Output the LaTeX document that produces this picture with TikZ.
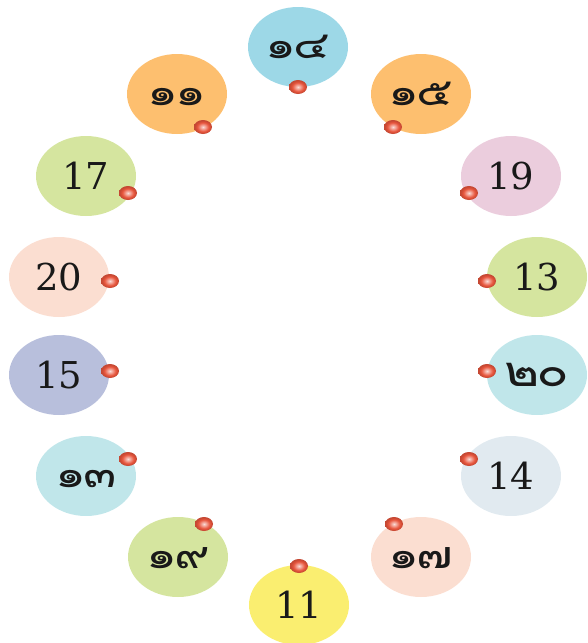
\documentclass[tikz,border=0pt]{standalone}
\usepackage{fontspec}
\newfontfamily\thaifont[Script=Thai, LetterSpace=-6]{Loma}
\newfontfamily\numfont{DejaVu Serif}
\usetikzlibrary{shapes.geometric}
\definecolor{cblue}{HTML}{9DD8E7}
\definecolor{corange}{HTML}{FDBF6F}
\definecolor{cgreen}{HTML}{D5E59F}
\definecolor{cpink}{HTML}{EBCDDD}
\definecolor{cpeach}{HTML}{FBDED1}
\definecolor{clav}{HTML}{B8BFDC}
\definecolor{ccyan}{HTML}{C0E6EA}
\definecolor{cgrey}{HTML}{E1EAF0}
\definecolor{cyellow}{HTML}{FAEE70}
\definecolor{cdot}{HTML}{E8553C}
\pgfdeclareradialshading{pegshade}{\pgfpoint{0bp}{0bp}}{%
  color(0bp)=(white!80!cdot); color(7bp)=(white!45!cdot);
  color(16bp)=(cdot); color(23bp)=(cdot!85!black); color(50bp)=(cdot!85!black)}
\newcommand{\thainum}[1]{\scalebox{1.28}[1]{#1}}
\tikzset{
  bubble/.style={ellipse, minimum width=100pt, minimum height=80pt, inner sep=0pt, fill=#1},
  arab/.style={font=\numfont\fontsize{37}{40}\selectfont, text=black!90},
  thai/.style={font=\thaifont\fontsize{38}{40}\selectfont, text=black!90, text height=22pt, text depth=0pt},
  peg/.style={ellipse, minimum width=18pt, minimum height=14pt, inner sep=0pt, shading=pegshade}
}
\begin{document}
\begin{tikzpicture}[x=1pt,y=-1pt]
\useasboundingbox (0,0) rectangle (588,643);
% bubbles
\node[bubble=cblue, thai] (b1) at (298,47) {\thainum{๑๔}};
\node[bubble=corange, thai] (b2) at (421,94) {\thainum{๑๕}};
\node[bubble=cpink, arab] (b3) at (511,176) {19};
\node[bubble=cgreen, arab] (b4) at (537,277) {13};
\node[bubble=ccyan, thai, font=\thaifont\fontsize{42}{44}\selectfont] (b5) at (537,375) {\thainum{๒๐}};
\node[bubble=cgrey, arab] (b6) at (511,476) {14};
\node[bubble=cpeach, thai] (b7) at (421,557) {\thainum{๑๗}};
\node[bubble=cyellow, arab] (b8) at (299,605) {11};
\node[bubble=cgreen, thai] (b9) at (178,557) {\thainum{๑๙}};
\node[bubble=ccyan, thai] (b10) at (86,476) {\thainum{๑๓}};
\node[bubble=clav, arab] (b11) at (59,375) {15};
\node[bubble=cpeach, arab] (b12) at (59,277) {20};
\node[bubble=cgreen, arab] (b13) at (86,176) {17};
\node[bubble=corange, thai] (b14) at (177,94) {\thainum{๑๑}};
% pegs
\node[peg] (p1) at (298,87) {};
\node[peg] (p2) at (393,127) {};
\node[peg] (p3) at (469,193) {};
\node[peg] (p4) at (487,281) {};
\node[peg] (p5) at (487,371) {};
\node[peg] (p6) at (469,459) {};
\node[peg] (p7) at (394,524) {};
\node[peg] (p8) at (299,566) {};
\node[peg] (p9) at (204,524) {};
\node[peg] (p10) at (128,459) {};
\node[peg] (p11) at (110,371) {};
\node[peg] (p12) at (110,281) {};
\node[peg] (p13) at (128,193) {};
\node[peg] (p14) at (203,127) {};
\end{tikzpicture}
\end{document}
